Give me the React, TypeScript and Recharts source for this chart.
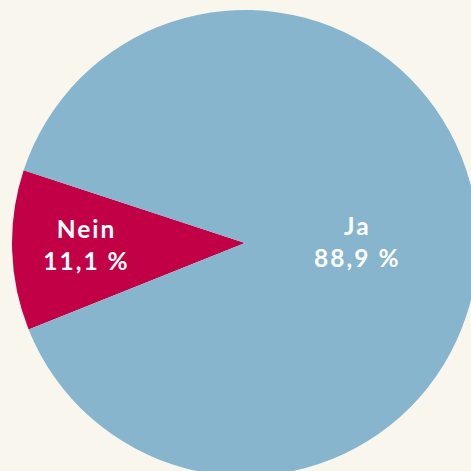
import { PieChart, Pie, Cell } from "recharts";

// Survey answers (share in %)
const answers = ["Nein", "Ja"];
const shares = [11.1, 88.9];
const labels = ["11,1 %", "88,9 %"];

const COLORS = ["#c20046", "#86b5cd"];
const BG = "#f9f6ee";

const data = answers.map((name, i) => ({ name, value: shares[i], label: labels[i] }));

// label placement: distance from centre (share of radius) and first-line baseline offset
const LABEL_POS: Record<string, { r: number; dy: number }> = {
  Nein: { r: 0.685, dy: -5.5 },
  Ja: { r: 0.478, dy: -8 },
};

const RADIAN = Math.PI / 180;

function renderLabel(props: any) {
  const { cx, cy, midAngle, outerRadius, payload } = props;
  const pos = LABEL_POS[payload.name] ?? { r: 0.5, dy: -6 };
  const x = cx + outerRadius * pos.r * Math.cos(-midAngle * RADIAN) + 1;
  const y = cy;
  return (
    <text
      x={x}
      y={y}
      fill="#ffffff"
      textAnchor="middle"
      fontFamily="Lato, sans-serif"
      fontWeight={700}
      fontSize={24.5}
      letterSpacing={2}
    >
      <tspan x={x} dy={pos.dy}>
        {payload.name}
      </tspan>
      <tspan x={x} dy={32}>
        {payload.label}
      </tspan>
    </text>
  );
}

export default function App() {
  return (
    <div
      style={{
        position: "fixed",
        left: 0,
        top: 0,
        width: 471,
        height: 471,
        background: BG,
        overflow: "hidden",
      }}
    >
      <PieChart width={471} height={471} margin={{ top: 0, right: 0, bottom: 0, left: 0 }}>
        <Pie
          data={data}
          dataKey="value"
          nameKey="name"
          cx={245}
          cy={243}
          outerRadius={233}
          startAngle={161.8}
          endAngle={521.8}
          stroke="none"
          label={renderLabel}
          labelLine={false}
          isAnimationActive={false}
        >
          {data.map((d, i) => (
            <Cell key={d.name} fill={COLORS[i]} />
          ))}
        </Pie>
      </PieChart>
    </div>
  );
}
